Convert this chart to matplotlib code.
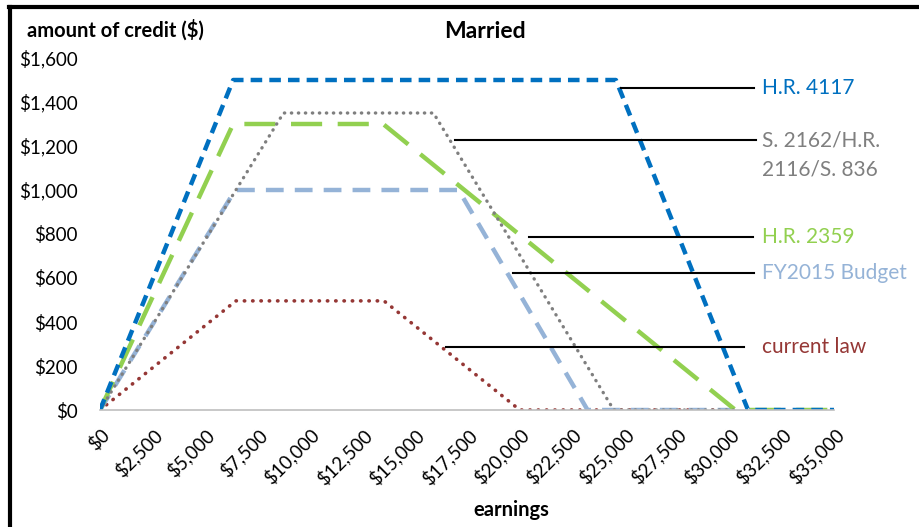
import matplotlib.pyplot as plt
from matplotlib.ticker import FuncFormatter

plt.rcParams['font.family'] = ['Lato', 'DejaVu Sans']

# earnings breakpoints and credit amounts
hr4117_x = [0, 6350, 24600, 30900, 35000]
hr4117_y = [0, 1500, 1500, 0, 0]

s2162_x = [0, 8750, 15900, 24500, 30200]
s2162_y = [0, 1350, 1350, 0, 0]

hr2359_x = [0, 6350, 13500, 30300, 35000]
hr2359_y = [0, 1300, 1300, 0, 0]

fy2015_x = [0, 6450, 17100, 23250, 30200]
fy2015_y = [0, 1000, 1000, 0, 0]

current_x = [0, 6480, 13540, 20020, 30200]
current_y = [0, 496, 496, 0, 0]

labels = ['H.R. 4117', 'S. 2162/H.R.', 'H.R. 2359', 'FY2015 Budget', 'current law']
label_y = [1464, 1227, 786, 623, 286]
leader_start = [24830, 16950, 20440, 19680, 16480]
leader_end = [31180, 31280, 31140, 31180, 30710]
extra_label = '2116/S. 836'
extra_label_y = 1091

x_ticks = list(range(0, 35001, 2500))
y_ticks = list(range(0, 1601, 200))

c_blue = '#0070C0'
c_grey = '#7F7F7F'
c_green = '#92D050'
c_lblue = '#95B3D7'
c_red = '#953735'

fig = plt.figure(figsize=(9.2, 5.27), dpi=100)
ax = fig.add_axes([100 / 920, 1 - 410 / 527, 734 / 920, 352 / 527])

ax.plot(current_x, current_y, color=c_red, lw=2.6, linestyle=(0, (0.1, 2.2)),
        dash_capstyle='round')
ax.plot(fy2015_x, fy2015_y, color=c_lblue, lw=3.2, linestyle=(0, (4, 2.5)))
ax.plot(hr2359_x, hr2359_y, color=c_green, lw=3.2, linestyle=(0, (7, 3.5)))
ax.plot(s2162_x, s2162_y, color=c_grey, lw=2.4, linestyle=(0, (0.1, 2.0)),
        dash_capstyle='round')
ax.plot(hr4117_x, hr4117_y, color=c_blue, lw=3.2, linestyle=(0, (2.6, 1.6)))

# leader lines and series labels on the right
colors = [c_blue, c_grey, c_green, c_lblue, c_red]
for lab, ly, xs, xe, col in zip(labels, label_y, leader_start, leader_end, colors):
    ax.plot([xs, xe], [ly, ly], color='black', lw=1.5, clip_on=False)
    ax.text(31550, ly, lab, color=col, fontsize=15, va='center', clip_on=False)
ax.text(31550, extra_label_y, extra_label, color=c_grey, fontsize=15, va='center',
        clip_on=False)

ax.set_xlim(0, 35000)
ax.set_ylim(0, 1600)
ax.set_xticks(x_ticks)
ax.set_yticks(y_ticks)
ax.xaxis.set_major_formatter(FuncFormatter(lambda v, p: '${:,.0f}'.format(v)))
ax.yaxis.set_major_formatter(FuncFormatter(lambda v, p: '${:,.0f}'.format(v)))
ax.tick_params(axis='both', length=0, labelsize=13.5)
ax.tick_params(axis='y', pad=16)
ax.tick_params(axis='x', pad=11)
for lbl in ax.get_xticklabels():
    lbl.set_rotation(45)
    lbl.set_ha('right')
    lbl.set_rotation_mode('anchor')

for s in ['top', 'right', 'left']:
    ax.spines[s].set_visible(False)
ax.spines['bottom'].set_color('#BFBFBF')
ax.spines['bottom'].set_linewidth(1.2)

fig.text(485 / 920, 1 - 32 / 527, 'Married', fontsize=16.5, fontweight='bold',
         ha='center', va='center')
fig.text(27 / 920, 1 - 30 / 527, 'amount of credit ($)', fontsize=14.5,
         fontweight='bold', ha='left', va='center')
fig.text(511 / 920, 1 - 510 / 527, 'earnings', fontsize=14.5, fontweight='bold',
         ha='center', va='center')

# frame (top and left edges visible)
fig.add_artist(plt.Line2D([9 / 920, 1], [1 - 7 / 527, 1 - 7 / 527], color='black', lw=3))
fig.add_artist(plt.Line2D([10 / 920, 10 / 920], [0, 1 - 7 / 527], color='black', lw=3))

fig.savefig('out.png', dpi=100)
